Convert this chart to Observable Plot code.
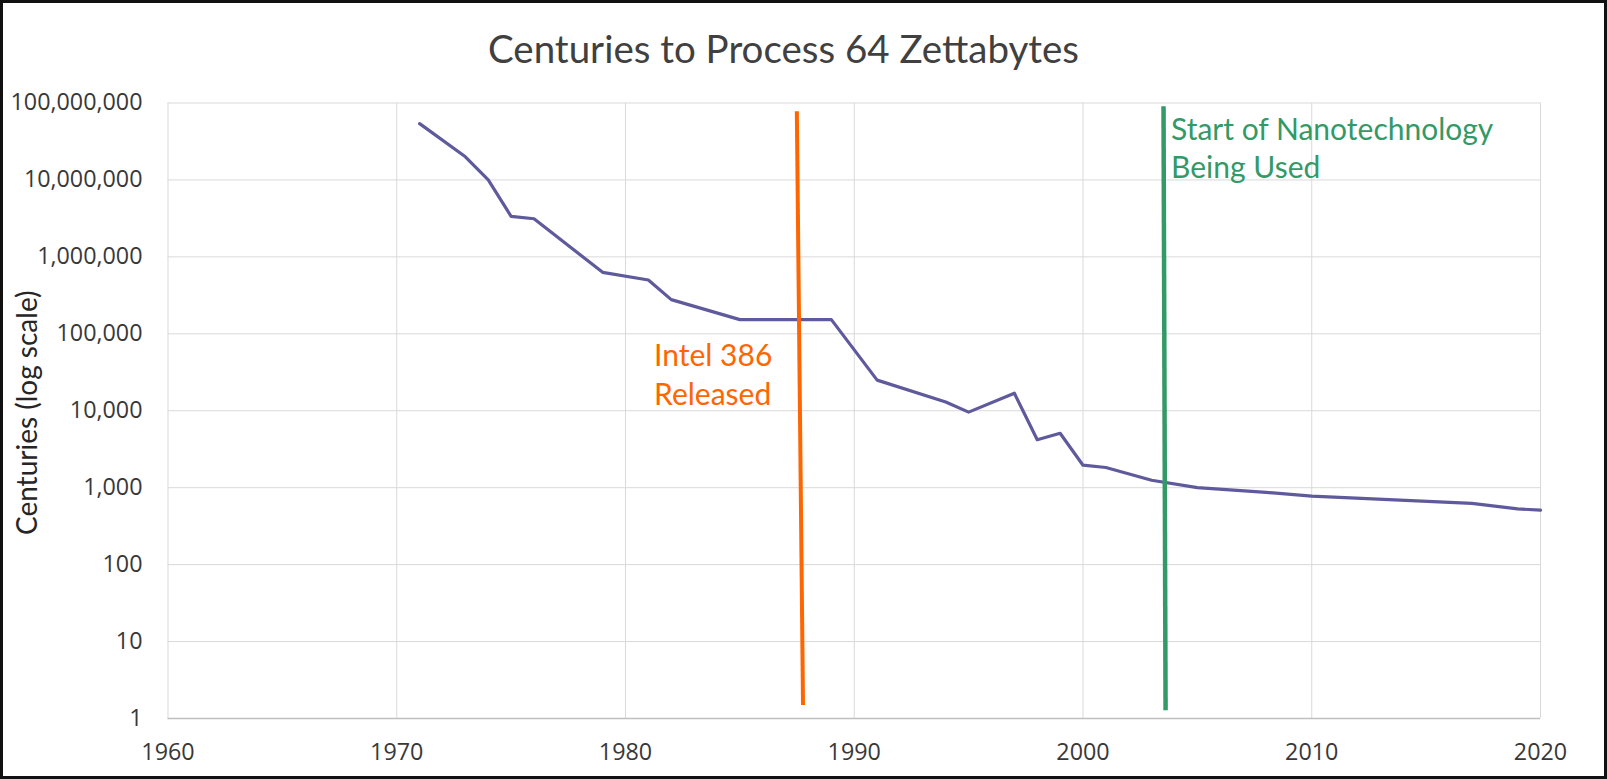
<!DOCTYPE html>
<html>
<head>
<meta charset="utf-8">
<script src="https://cdn.jsdelivr.net/npm/d3@7"></script>
<script src="https://cdn.jsdelivr.net/npm/@observablehq/plot@0.6"></script>
<style>
  html, body { margin: 0; padding: 0; background: #fff; }
  #wrap { position: relative; width: 1607px; height: 779px; overflow: hidden; background: #fff; }
  #title { position: absolute; top: 29px; left: 0; width: 1567px; text-align: center;
           font-family: Lato, sans-serif; font-size: 38.5px; line-height: 38.5px; color: #404040; white-space: nowrap; }
  #chart { position: absolute; top: 80px; left: 0; }
  #frame { position: absolute; inset: 0; border: 3px solid #111; box-sizing: border-box; pointer-events: none; }
</style>
</head>
<body>
<div id="wrap">
  <div id="title">Centuries to Process 64 Zettabytes</div>
  <div id="chart"></div>
  <div id="frame"></div>
</div>
<script>
// ---- data ----
const years = [1971, 1973, 1974, 1975, 1976, 1979, 1981, 1982, 1985, 1989, 1991, 1994, 1995, 1997, 1998, 1999, 2000, 2001, 2003, 2005, 2008, 2010, 2017, 2019, 2020];
const centuries = [54000000, 20000000, 10000000, 3360000, 3130000, 630000, 500000, 278000, 153000, 153000, 25000, 13000, 9600, 16900, 4200, 5100, 1960, 1830, 1250, 1000, 870, 775, 625, 530, 511];

const xTicks = [1960, 1970, 1980, 1990, 2000, 2010, 2020];
const yTicks = [1, 10, 100, 1000, 10000, 100000, 1000000, 10000000, 100000000];

// annotation markers (data space)
const markerLabels = ["Intel 386\nReleased", "Start of Nanotechnology\nBeing Used"];
const markerX1 = [1987.49, 2003.52];
const markerY1 = [78000000, 91000000];
const markerX2 = [1987.76, 2003.61];
const markerY2 = [1.5, 1.28];
const labelX = [1981.25, 2003.85];
const labelY = [31000, 27200000];

const series = years.map((y, i) => ({year: y, value: centuries[i]}));
const markers = markerLabels.map((t, i) => ({
  text: t, x1: markerX1[i], y1: markerY1[i], x2: markerX2[i], y2: markerY2[i], lx: labelX[i], ly: labelY[i]
}));

const lineColor = "#5F5A9C";
const markerColors = ["#FF6600", "#339966"];

const chart = Plot.plot({
  width: 1607,
  height: 699,
  marginLeft: 167.5,
  marginRight: 67,
  marginTop: 22.5,
  marginBottom: 61,
  style: {fontFamily: "'Open Sans', sans-serif", fontSize: "23.3px", color: "#383838", background: "transparent", overflow: "visible"},
  x: {domain: [1960, 2020], ticks: xTicks, tickFormat: "d", tickSize: 0, tickPadding: 25, label: null},
  y: {type: "log", domain: [1, 100000000], ticks: yTicks, tickFormat: ",", tickSize: 0, tickPadding: 25.5, label: null},
  marks: [
    Plot.ruleX(xTicks, {stroke: "#d9d9d9", strokeWidth: 1}),
    Plot.ruleY(yTicks.slice(1), {stroke: "#d9d9d9", strokeWidth: 1}),
    Plot.ruleY([1], {stroke: "#bfbfbf", strokeWidth: 1.5}),
    Plot.line(series, {x: "year", y: "value", stroke: lineColor, strokeWidth: 3.2, strokeLinejoin: "round"}),
    Plot.link(markers.slice(0, 1), {x1: "x1", y1: "y1", x2: "x2", y2: "y2", stroke: markerColors[0], strokeWidth: 4}),
    Plot.link(markers.slice(1, 2), {x1: "x1", y1: "y1", x2: "x2", y2: "y2", stroke: markerColors[1], strokeWidth: 4.5}),
    Plot.text(markers.slice(0, 1), {x: "lx", y: "ly", text: "text", textAnchor: "start", lineAnchor: "middle", lineHeight: 1.3, fontSize: 30, fontFamily: "Lato, sans-serif", fill: markerColors[0]}),
    Plot.text(markers.slice(1, 2), {x: "lx", y: "ly", text: "text", textAnchor: "start", lineAnchor: "middle", lineHeight: 1.28, fontSize: 30, fontFamily: "Lato, sans-serif", fill: markerColors[1]}),
    Plot.text(["Centuries (log scale)"], {frameAnchor: "left", textAnchor: "middle", rotate: -90, dx: -139.5, dy: 2, fontSize: 28, fontFamily: "Lato, sans-serif", fill: "#262626"})
  ]
});
document.getElementById("chart").appendChild(chart);
</script>
</body>
</html>
